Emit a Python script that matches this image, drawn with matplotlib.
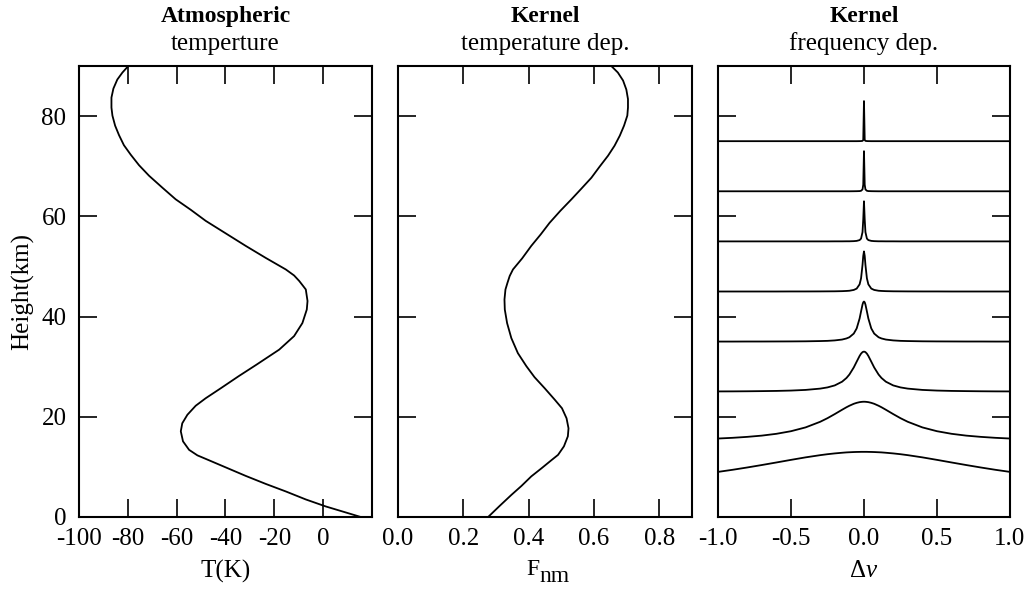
import matplotlib
matplotlib.use("Agg")
import matplotlib.pyplot as plt

plt.rcParams["font.family"] = ["Liberation Serif", "DejaVu Serif"]
plt.rcParams["mathtext.fontset"] = "custom"
plt.rcParams["mathtext.rm"] = "Liberation Serif"
plt.rcParams["mathtext.it"] = "Liberation Serif:italic"
plt.rcParams["axes.unicode_minus"] = False
plt.rcParams["font.size"] = 18

# --- panel 1: atmospheric temperature profile ---
TEMP_HEIGHT = [0.0, 0.9, 2.1, 3.5, 5.1, 6.6, 8.2, 9.9, 11.6, 12.3, 13.4, 15.1, 17.1, 18.7,
               20.4, 22.2, 23.7, 25.7, 28.1, 30.4, 33.4, 36.1, 38.7, 41.4, 43.1, 45.4,
               46.1, 47.1, 48.2, 49.4, 51.7, 54.1, 56.6, 59.1, 61.3, 63.4, 65.7, 68.1,
               70.2, 72.3, 74.2, 76.2, 78.1, 80.1, 81.7, 83.7, 85.5, 87.3, 88.7, 90.0]
TEMP_K = [15.4, 9.3, 1.1, -7.1, -15.3, -23.5, -31.7, -39.9, -48.1, -51.5, -54.9, -57.4,
          -58.3, -57.7, -55.6, -52.2, -48.1, -41.9, -34.6, -27.3, -18.0, -11.9, -8.5, -6.7,
          -6.4, -7.1, -8.2, -9.8, -11.9, -15.3, -23.5, -31.7, -39.9, -48.1, -54.2, -60.4,
          -65.8, -71.3, -75.4, -78.8, -81.6, -83.6, -85.2, -86.3, -86.7, -86.7, -85.9,
          -84.3, -82.2, -79.8]

# --- panel 2: kernel temperature dependence ---
FNM_HEIGHT = [0.0, 2.2, 4.4, 6.2, 8.1, 9.7, 11.3, 12.4, 14.1, 16.1, 17.7, 19.7, 21.7, 23.4,
              25.7, 27.9, 30.1, 32.7, 35.7, 38.7, 41.4, 43.4, 45.4, 46.7, 48.1, 49.4, 51.6,
              54.1, 56.4, 58.7, 61.1, 63.4, 65.5, 67.7, 69.9, 72.1, 74.1, 76.1, 78.1, 80.1,
              81.7, 83.4, 85.3, 87.1, 88.7, 90.0]
FNM = [0.276, 0.311, 0.347, 0.378, 0.408, 0.439, 0.469, 0.490, 0.508, 0.520, 0.522, 0.516,
       0.502, 0.480, 0.449, 0.418, 0.393, 0.367, 0.347, 0.334, 0.327, 0.326, 0.329, 0.335,
       0.342, 0.352, 0.380, 0.408, 0.437, 0.464, 0.497, 0.531, 0.561, 0.592, 0.617, 0.643,
       0.663, 0.679, 0.692, 0.702, 0.704, 0.704, 0.699, 0.689, 0.673, 0.653]

# --- panel 3: kernel frequency dependence (left half of each profile, symmetric) ---
DNU_HALF = [-1.0, -0.9, -0.8, -0.7, -0.6, -0.5, -0.4, -0.3, -0.25, -0.2, -0.15, -0.12,
            -0.1, -0.07, -0.05, -0.03, -0.02, -0.01, -0.005, 0.0]
LINE_BASE = [5, 15, 25, 35, 45, 55, 65, 75]
LINE_05 = [4.0, 4.42, 4.88, 5.37, 5.88, 6.4, 6.9, 7.34, 7.53, 7.69, 7.82, 7.89, 7.92, 7.96,
           7.98, 7.99, 8.0, 8.0, 8.0, 8.0]
LINE_15 = [0.66, 0.8, 0.99, 1.24, 1.6, 2.12, 2.88, 4.0, 4.72, 5.54, 6.4, 6.9, 7.2, 7.59,
           7.78, 7.92, 7.96, 7.99, 8.0, 8.0]
LINE_25 = [0.06, 0.07, 0.09, 0.12, 0.16, 0.23, 0.36, 0.62, 0.86, 1.26, 2.0, 2.74, 3.43, 4.84,
           6.0, 7.14, 7.6, 7.9, 7.97, 8.0]
LINE_35 = [0.01, 0.01, 0.02, 0.02, 0.03, 0.04, 0.06, 0.11, 0.15, 0.24, 0.41, 0.63, 0.87, 1.6,
           2.63, 4.61, 6.03, 7.4, 7.84, 8.0]
LINE_45 = [0.0, 0.0, 0.0, 0.0, 0.0, 0.01, 0.01, 0.02, 0.03, 0.04, 0.07, 0.11, 0.15, 0.31,
           0.58, 1.43, 2.63, 5.3, 7.1, 8.0]
LINE_55 = [0.0, 0.0, 0.0, 0.0, 0.0, 0.0, 0.0, 0.0, 0.0, 0.01, 0.01, 0.02, 0.02, 0.05,
           0.1, 0.26, 0.56, 1.85, 4.36, 8.0]
LINE_65 = [0.0, 0.0, 0.0, 0.0, 0.0, 0.0, 0.0, 0.0, 0.0, 0.0, 0.0, 0.0, 0.0, 0.01,
           0.02, 0.04, 0.1, 0.37, 1.31, 8.0]
LINE_75 = [0.0, 0.0, 0.0, 0.0, 0.0, 0.0, 0.0, 0.0, 0.0, 0.0, 0.0, 0.0, 0.0, 0.0,
           0.0, 0.01, 0.02, 0.06, 0.25, 8.0]
LINE_OFFSETS = [LINE_05, LINE_15, LINE_25, LINE_35, LINE_45, LINE_55, LINE_65, LINE_75]

TITLES = [("Atmospheric", "temperture"), ("Kernel", "temperature dep."), ("Kernel", "frequency dep.")]

fig = plt.figure(figsize=(10.31, 5.92), dpi=100)
bottom, height = 0.1267, 0.7618
ax1 = fig.add_axes([0.0766, bottom, 0.2842, height])
ax2 = fig.add_axes([0.3860, bottom, 0.2852, height])
ax3 = fig.add_axes([0.6964, bottom, 0.2832, height])
axes = [ax1, ax2, ax3]

LW = 1.3
ax1.plot(TEMP_K, TEMP_HEIGHT, color="black", lw=LW)
ax2.plot(FNM, FNM_HEIGHT, color="black", lw=LW)

dnu = DNU_HALF + [-v for v in reversed(DNU_HALF[:-1])]
for base, off in zip(LINE_BASE, LINE_OFFSETS):
    prof = off + list(reversed(off[:-1]))
    ax3.plot(dnu, [base + p for p in prof], color="black", lw=LW)

ax1.set_xlim(-100, 20)
ax1.set_xticks([-100, -80, -60, -40, -20, 0])
ax1.set_xticklabels(["-100", "-80", "-60", "-40", "-20", "0"])
ax2.set_xlim(0, 0.9)
ax2.set_xticks([0.0, 0.2, 0.4, 0.6, 0.8])
ax2.set_xticklabels(["0.0", "0.2", "0.4", "0.6", "0.8"])
ax3.set_xlim(-1, 1)
ax3.set_xticks([-1.0, -0.5, 0.0, 0.5, 1.0])
ax3.set_xticklabels(["-1.0", "-0.5", "0.0", "0.5", "1.0"])

for i, ax in enumerate(axes):
    ax.set_ylim(0, 90)
    ax.set_yticks([0, 20, 40, 60, 80])
    ax.tick_params(direction="in", length=13, width=1.2, top=True, right=True,
                   labelsize=18, pad=8)
    ax.tick_params(axis="y", pad=9)
    for s in ax.spines.values():
        s.set_linewidth(1.5)
    if i > 0:
        ax.set_yticklabels([])
    bold, normal = TITLES[i]
    ax.annotate(bold, xy=(0.5, 1.0), xycoords="axes fraction", xytext=(0, 31.5),
                textcoords="offset points", ha="center", va="baseline",
                fontsize=17, fontweight="bold")
    ax.annotate(normal, xy=(0.5, 1.0), xycoords="axes fraction", xytext=(0, 11.5),
                textcoords="offset points", ha="center", va="baseline", fontsize=18)

ax1.set_xlabel("T(K)", fontsize=18, labelpad=7)
ax3.set_xlabel(r"$\Delta\nu$", fontsize=18, labelpad=7)
# F with a near full-size "nm" subscript, as in the original
ax2.annotate("F", xy=(0.5, 0.0), xycoords="axes fraction", xytext=(-4, -42),
             textcoords="offset points", ha="right", va="baseline", fontsize=17)
ax2.annotate("nm", xy=(0.5, 0.0), xycoords="axes fraction", xytext=(-4, -47),
             textcoords="offset points", ha="left", va="baseline", fontsize=17)

ax1.set_ylabel("Height(km)", fontsize=18, labelpad=5)

fig.savefig("out.png", dpi=100)
